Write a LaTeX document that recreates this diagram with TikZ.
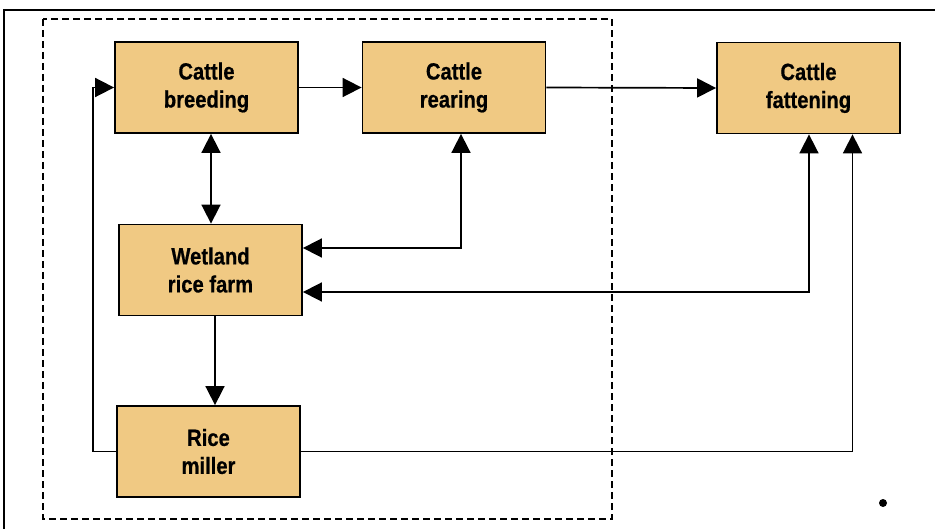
\documentclass[tikz,border=0pt]{standalone}
\usepackage{fontspec}
\setmainfont{Liberation Sans}[FakeStretch=0.86,BoldFeatures={FakeBold=0.6}]
\usetikzlibrary{positioning}
\usetikzlibrary{calc}
\usetikzlibrary{arrows.meta}
\definecolor{boxfill}{RGB}{240,201,131}
\tikzset{
	every path/.style={line width=1.7pt},
	stage/.style={draw=black,line width=1.8pt,fill=boxfill,minimum width=183pt,minimum height=91pt,
		inner sep=0pt,align=center,font=\fontsize{23.5}{28}\selectfont\bfseries},
	tip/.style={-{Triangle[length=19pt,width=19pt]}},
	tips/.style={{Triangle[length=19pt,width=19pt]}-{Triangle[length=19pt,width=19pt]}},
}

\begin{document}
\begin{tikzpicture}[x=1pt,y=-1pt]

			\useasboundingbox (0,0) rectangle (935,529);

			% frame.....................
			\draw [line width=1.5pt] (4,529) -- (4,10) -- (935,10);

			% dashed farm area..........
			\draw [dashed,line width=1.8pt,dash pattern=on 7pt off 4pt] (43,19) rectangle (612,519);

			% stages....................
			\node [stage] (breeding) at (206.5,87.5) {Cattle\\breeding};
			\node [stage] (rearing) at (454,87.5) {Cattle\\rearing};
			\node [stage] (fattening) at (808.5,88) {Cattle\\fattening};
			\node [stage] (wetland) at (210.5,270) {Wetland\\rice farm};
			\node [stage] (miller) at (208.5,451.5) {Rice\\miller};

			% cattle chain..............
			\draw [tip] (breeding.east) -- (rearing.west);
			\draw [tip] (rearing.east) -- (fattening.west);

			% links to the rice farm....
			\draw [tips] ([xshift=4.5pt]breeding.south) -- ([xshift=4.5pt]breeding.south |- wetland.north);
			\draw [tips] ([xshift=7pt]rearing.south) |- ([yshift=22pt]wetland.east);
			\draw [tips] ([xshift=0.5pt]fattening.south) |- ([yshift=-22pt]wetland.east);
			\draw [tip] ([xshift=4.5pt]wetland.south) -- ([xshift=4.5pt]wetland.south |- miller.north);

			% rice miller outputs.......
			\draw [tip] (miller.east) -| ([xshift=44pt]fattening.south);
			\draw [tip] (miller.west) -- ++(-23,0) coordinate (back) |- (breeding.west);

			% dot.......................
			\fill (883,503) circle (4pt);

\end{tikzpicture}
\end{document}
